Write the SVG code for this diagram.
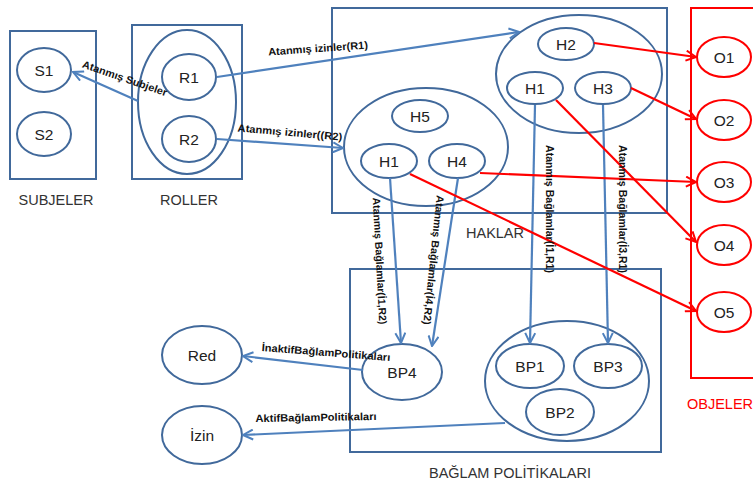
<svg xmlns="http://www.w3.org/2000/svg" width="753" height="486" viewBox="0 0 753 486">
<defs>
<style>
.box{fill:none;stroke:#41699b;stroke-width:2}
.ell{fill:#fff;stroke:#41699b;stroke-width:2}
.big{fill:none;stroke:#41699b;stroke-width:2}
.oell{fill:#fff;stroke:#ff0000;stroke-width:2}
.nt{font-family:"Liberation Sans",Arial,sans-serif;font-size:15.5px;fill:#222;text-anchor:middle;dominant-baseline:central}
.gl{font-family:"Liberation Sans",Arial,sans-serif;font-size:14.5px;fill:#333;text-anchor:middle}
.el{font-family:"Liberation Sans",Arial,sans-serif;font-size:10.5px;font-weight:bold;fill:#111;text-anchor:middle;dominant-baseline:central}
.bl{fill:none;stroke:#4f81bd;stroke-width:2.2;marker-end:url(#ab)}
.rl{fill:none;stroke:#ff0000;stroke-width:2.2;marker-end:url(#ar)}
</style>
<marker id="ab" viewBox="0 0 12 12" refX="11" refY="6" markerWidth="12" markerHeight="12" orient="auto" markerUnits="userSpaceOnUse"><path d="M1,1 L11,6 L1,11" fill="none" stroke="#4f81bd" stroke-width="2"/></marker>
<marker id="ar" viewBox="0 0 12 12" refX="11" refY="6" markerWidth="12" markerHeight="12" orient="auto" markerUnits="userSpaceOnUse"><path d="M1,1 L11,6 L1,11" fill="none" stroke="#ff0000" stroke-width="2"/></marker>
</defs>
<rect width="753" height="486" fill="#fff"/>

<g id="subjeler">
<rect class="box" x="10" y="31" width="86" height="148"/>
<text class="gl" x="56" y="205">SUBJELER</text>
</g>
<g id="S1"><ellipse class="ell" cx="44" cy="70" rx="27" ry="22"/><text class="nt" x="44" y="70">S1</text></g>
<g id="S2"><ellipse class="ell" cx="44" cy="134" rx="27" ry="22"/><text class="nt" x="44" y="134">S2</text></g>

<g id="roller">
<rect class="box" x="132" y="25" width="110" height="154"/>
<ellipse class="big" cx="187" cy="102" rx="49" ry="72"/>
<text class="gl" x="189" y="205">ROLLER</text>
</g>
<g id="R1"><ellipse class="ell" cx="189" cy="77" rx="27" ry="23"/><text class="nt" x="189" y="77">R1</text></g>
<g id="R2"><ellipse class="ell" cx="189" cy="139" rx="27" ry="23"/><text class="nt" x="189" y="139">R2</text></g>

<g id="haklar">
<rect class="box" x="332" y="8" width="335" height="205"/>
<ellipse class="big" cx="579" cy="74" rx="83" ry="59"/>
<ellipse class="big" cx="426" cy="147" rx="82" ry="59"/>
<text class="gl" x="495" y="238">HAKLAR</text>
</g>
<g id="H2"><ellipse class="ell" cx="566" cy="44" rx="28" ry="16"/><text class="nt" x="566" y="44">H2</text></g>
<g id="H1a"><ellipse class="ell" cx="535" cy="88" rx="28" ry="16"/><text class="nt" x="535" y="88">H1</text></g>
<g id="H3"><ellipse class="ell" cx="603" cy="88" rx="28" ry="16"/><text class="nt" x="603" y="88">H3</text></g>
<g id="H5"><ellipse class="ell" cx="420" cy="116" rx="28" ry="16"/><text class="nt" x="420" y="116">H5</text></g>
<g id="H1b"><ellipse class="ell" cx="389" cy="161" rx="28" ry="17"/><text class="nt" x="389" y="161">H1</text></g>
<g id="H4"><ellipse class="ell" cx="457" cy="161" rx="28" ry="17"/><text class="nt" x="457" y="161">H4</text></g>

<g id="objeler">
<rect x="691" y="8" width="80" height="370" fill="none" stroke="#ff0000" stroke-width="2"/>
<text x="687" y="409" font-family="Liberation Sans, Arial, sans-serif" font-size="14.5" fill="#ff0000">OBJELER</text>
</g>
<g id="O1"><ellipse class="oell" cx="724" cy="57" rx="27" ry="20"/><text class="nt" x="724" y="57">O1</text></g>
<g id="O2"><ellipse class="oell" cx="724" cy="120" rx="27" ry="20"/><text class="nt" x="724" y="120">O2</text></g>
<g id="O3"><ellipse class="oell" cx="724" cy="182" rx="27" ry="20"/><text class="nt" x="724" y="182">O3</text></g>
<g id="O4"><ellipse class="oell" cx="724" cy="245" rx="27" ry="20"/><text class="nt" x="724" y="245">O4</text></g>
<g id="O5"><ellipse class="oell" cx="724" cy="312" rx="27" ry="20"/><text class="nt" x="724" y="312">O5</text></g>

<g id="baglam">
<rect class="box" x="350" y="269" width="311" height="183"/>
<ellipse class="big" cx="567" cy="381" rx="82" ry="60"/>
<text class="gl" x="510" y="478">BAĞLAM POLİTİKALARI</text>
</g>
<g id="BP4"><ellipse class="ell" cx="402" cy="372" rx="40" ry="28"/><text class="nt" x="402" y="372">BP4</text></g>
<g id="BP1"><ellipse class="ell" cx="530" cy="366" rx="34" ry="22"/><text class="nt" x="530" y="366">BP1</text></g>
<g id="BP3"><ellipse class="ell" cx="608" cy="366" rx="34" ry="22"/><text class="nt" x="608" y="366">BP3</text></g>
<g id="BP2"><ellipse class="ell" cx="560" cy="412" rx="34" ry="23"/><text class="nt" x="560" y="412">BP2</text></g>
<g id="Red"><ellipse class="ell" cx="202" cy="355" rx="40" ry="29"/><text class="nt" x="202" y="355">Red</text></g>
<g id="Izin"><ellipse class="ell" cx="202" cy="435" rx="40" ry="29"/><text class="nt" x="202" y="435">İzin</text></g>

<g id="connectors">
<line class="bl" x1="138" y1="101" x2="73" y2="72"/>
<line class="bl" x1="217" y1="77" x2="519" y2="32"/>
<line class="bl" x1="217" y1="139" x2="343" y2="148"/>
<line class="bl" x1="390" y1="178" x2="401" y2="343"/>
<line class="bl" x1="458" y1="178" x2="432" y2="346"/>
<line class="bl" x1="535" y1="105" x2="530" y2="343"/>
<line class="bl" x1="603" y1="105" x2="608" y2="343"/>
<line class="bl" x1="363" y1="370" x2="243" y2="356"/>
<line class="bl" x1="505" y1="423" x2="243" y2="435"/>
<line class="rl" x1="594" y1="43" x2="696" y2="57"/>
<line class="rl" x1="631" y1="88" x2="696" y2="119"/>
<line class="rl" x1="480" y1="173" x2="696" y2="182"/>
<line class="rl" x1="556" y1="100" x2="696" y2="242"/>
<line class="rl" x1="410" y1="174" x2="696" y2="311"/>
<text class="el" transform="translate(125,78) rotate(19)" textLength="89" lengthAdjust="spacingAndGlyphs">Atanmış Subjeler</text>
<text class="el" transform="translate(318,48) rotate(-4)" textLength="100" lengthAdjust="spacingAndGlyphs">Atanmış izinler(R1)</text>
<text class="el" transform="translate(290,132) rotate(5)" textLength="105" lengthAdjust="spacingAndGlyphs">Atanmış izinler((R2)</text>
<text class="el" transform="translate(380,261) rotate(87)" textLength="127" lengthAdjust="spacingAndGlyphs">Atanmış Bağlamlar(İ1,R2)</text>
<text class="el" transform="translate(434,260) rotate(96)" textLength="130" lengthAdjust="spacingAndGlyphs">Atanmış Bağlamlar(İ4,R2)</text>
<text class="el" transform="translate(550,209) rotate(90)" textLength="128" lengthAdjust="spacingAndGlyphs">Atanmış Bağlamlar(İ1,R1)</text>
<text class="el" transform="translate(623,209) rotate(90)" textLength="128" lengthAdjust="spacingAndGlyphs">Atanmış Bağlamlar(İ3,R1)</text>
<text class="el" transform="translate(326,352) rotate(4.5)" textLength="129" lengthAdjust="spacingAndGlyphs">İnaktifBağlamPolitikaları</text>
<text class="el" transform="translate(316,417) rotate(-1)" textLength="121" lengthAdjust="spacingAndGlyphs">AktifBağlamPolitikaları</text>
</g>
</svg>
